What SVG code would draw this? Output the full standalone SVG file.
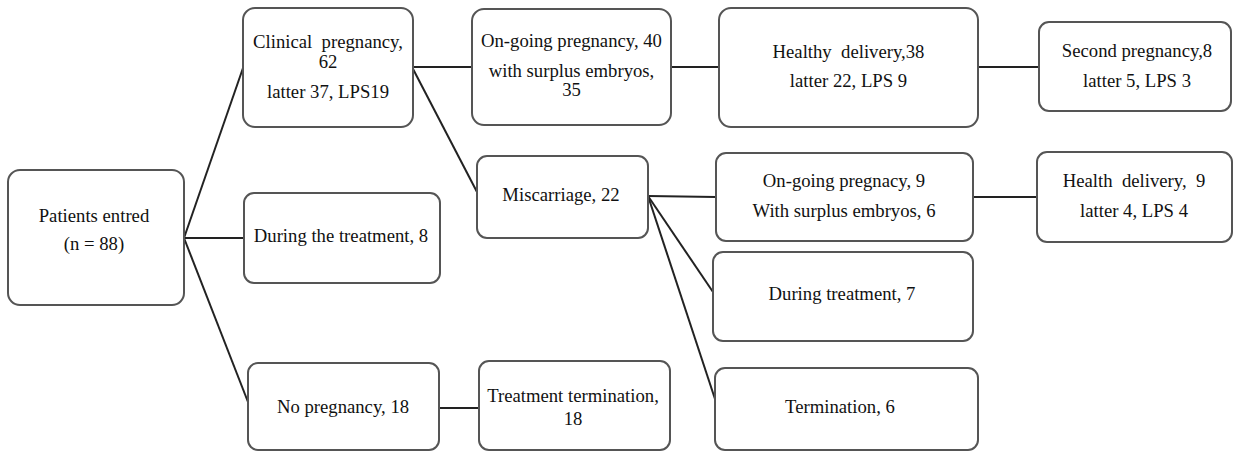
<svg xmlns="http://www.w3.org/2000/svg" width="1233" height="453" viewBox="0 0 1233 453">
<style>
.box{fill:#fff;stroke:#555;stroke-width:2}
text{font-family:'Liberation Serif',Tinos,'Times New Roman',Times,'DejaVu Serif',serif;font-size:18.7px;fill:#111;text-anchor:middle}
.c line{stroke:#222;stroke-width:2}
</style>
<rect width="1233" height="453" fill="#fff"/>
<g class="c" id="connectors">
<line x1="184" y1="238" x2="243" y2="68"/>
<line x1="184" y1="238" x2="244" y2="238"/>
<line x1="184" y1="238" x2="248" y2="402"/>
<line x1="412" y1="67" x2="472" y2="67"/>
<line x1="412" y1="67" x2="477" y2="192"/>
<line x1="671" y1="67" x2="719" y2="67"/>
<line x1="978" y1="67" x2="1039" y2="67"/>
<line x1="648" y1="196" x2="716" y2="197"/>
<line x1="648" y1="196" x2="713" y2="292"/>
<line x1="648" y1="196" x2="715" y2="399"/>
<line x1="973" y1="197" x2="1037" y2="197"/>
<line x1="439" y1="408" x2="479" y2="408"/>
</g>
<g id="n-patients"><rect class="box" x="8" y="170" width="176" height="135" rx="12"/><text font-family="Liberation Serif, serif" x="94" y="222">Patients entred</text><text x="94" y="250">(n = 88)</text></g>
<g id="n-clinical"><rect class="box" x="243" y="8" width="170" height="119" rx="12"/><text x="328" y="48" xml:space="preserve">Clinical  pregnancy,</text><text x="328" y="68">62</text><text x="328" y="98">latter 37, LPS19</text></g>
<g id="n-during8"><rect class="box" x="244" y="193" width="196" height="90" rx="10"/><text x="341" y="242">During the treatment, 8</text></g>
<g id="n-nopreg"><rect class="box" x="248" y="363" width="191" height="87" rx="10"/><text x="343" y="413">No pregnancy, 18</text></g>
<g id="n-ongoing40"><rect class="box" x="472" y="9" width="199" height="116" rx="12"/><text x="571.5" y="47">On-going pregnancy, 40</text><text x="571.5" y="77">with surplus embryos,</text><text x="571.5" y="96">35</text></g>
<g id="n-miscarriage"><rect class="box" x="477" y="156" width="171" height="82" rx="10"/><text x="561" y="201">Miscarriage, 22</text></g>
<g id="n-termination18"><rect class="box" x="479" y="361" width="191" height="89" rx="10"/><text x="573" y="402">Treatment termination,</text><text x="573" y="425">18</text></g>
<g id="n-healthy38"><rect class="box" x="719" y="8" width="259" height="119" rx="12"/><text x="848.5" y="58" xml:space="preserve">Healthy  delivery,38</text><text x="848.5" y="87">latter 22, LPS 9</text></g>
<g id="n-second"><rect class="box" x="1039" y="22" width="192" height="89" rx="10"/><text x="1137" y="57">Second pregnancy,8</text><text x="1137" y="87">latter 5, LPS 3</text></g>
<g id="n-ongoing9"><rect class="box" x="716" y="153" width="257" height="88" rx="10"/><text x="844" y="187">On-going pregnacy, 9</text><text x="844" y="217">With surplus embryos, 6</text></g>
<g id="n-during7"><rect class="box" x="713" y="252" width="260" height="89" rx="10"/><text x="842" y="300">During treatment, 7</text></g>
<g id="n-termination6"><rect class="box" x="715" y="368" width="263" height="82" rx="10"/><text x="840" y="413">Termination, 6</text></g>
<g id="n-health9"><rect class="box" x="1037" y="152" width="195" height="90" rx="10"/><text x="1134" y="187" xml:space="preserve">Health  delivery,  9</text><text x="1134" y="217">latter 4, LPS 4</text></g>
</svg>
